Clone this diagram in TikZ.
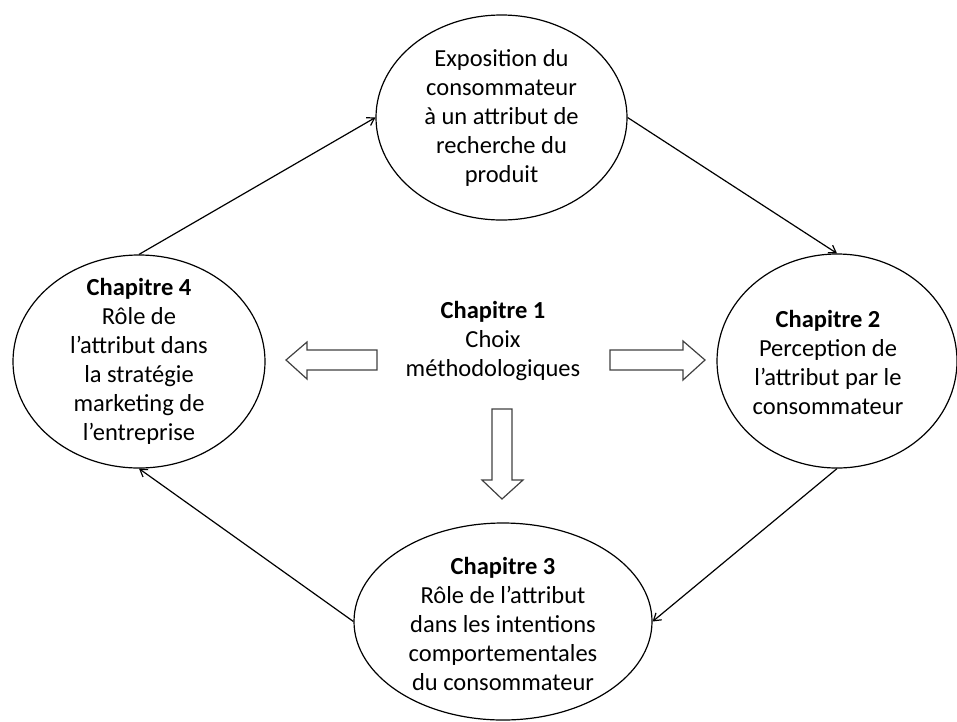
\documentclass[tikz,border=0pt]{standalone}
\usepackage{fontspec}
\setmainfont{Carlito}
\usetikzlibrary{shapes.geometric,arrows.meta}

\begin{document}
\begin{tikzpicture}[
  x=1pt, y=-1pt,
  chapter/.style={ellipse, draw, line width=1.2pt, inner sep=0pt},
  txt/.style={align=center, inner sep=0pt, font=\fontsize{24.5}{29}\selectfont},
  flow/.style={-{Straight Barb[length=7pt,width=9pt]}, line width=1.2pt},
  hollow/.style={draw=black!75, line width=1.2pt, line join=miter}
]
\useasboundingbox (0,0) rectangle (957,721);

% Top - exposition
\node[chapter, minimum width=251pt, minimum height=205pt] (Expo) at (501.5,117.5) {};
\node[txt] (ExpoText) at (Expo) {Exposition du\\consommateur\\à un attribut de\\recherche du\\produit};

% Left - chapitre 4
\node[chapter, minimum width=252pt, minimum height=213pt] (Ch4) at (139,361.5) {};
\node[txt] (Ch4Text) at (Ch4) {\textbf{Chapitre 4}\\Rôle de\\l’attribut dans\\la stratégie\\marketing de\\l’entreprise};

% Right - chapitre 2
\node[chapter, minimum width=240pt, minimum height=214pt] (Ch2) at (837,361) {};
\node[txt] (Ch2Text) at (828,362) {\textbf{Chapitre 2}\\Perception de\\l’attribut par le\\consommateur};

% Bottom - chapitre 3
\node[chapter, minimum width=298pt, minimum height=197pt] (Ch3) at (503,621.5) {};
\node[txt] (Ch3Text) at (503,624) {\textbf{Chapitre 3}\\Rôle de l’attribut\\dans les intentions\\comportementales\\du consommateur};

% Centre - chapitre 1
\node[txt] (Ch1) at (493,341) {\textbf{Chapitre 1}\\Choix\\méthodologiques};

% hollow arrows out of the centre
\draw[hollow] (377,350) -- (307,350) -- (307,342) -- (286,360) -- (307,379) -- (307,370) -- (377,370) -- cycle;
\draw[hollow] (610,350) -- (683,350) -- (683,341) -- (705,360) -- (683,380) -- (683,370) -- (610,370) -- cycle;
\draw[hollow] (492,409) -- (512,409) -- (512,480) -- (523,480) -- (502,499) -- (482,480) -- (492,480) -- cycle;

% cycle round the chapters
\draw[flow] (Ch4.north) -- (Expo.west);
\draw[flow] (Expo.east) -- (Ch2.north);
\draw[flow] (Ch2.south) -- (Ch3.east);
\draw[flow] (Ch3.west) -- (Ch4.south);

\end{tikzpicture}
\end{document}
